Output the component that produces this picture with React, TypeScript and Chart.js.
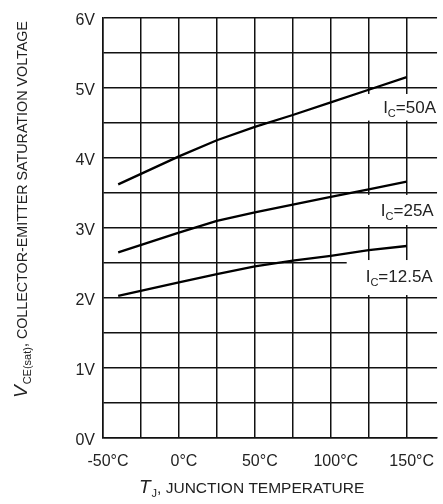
import React, { useEffect, useRef } from 'react';
import { Chart, registerables } from 'chart.js';

Chart.register(...registerables);

// Junction temperature (°C) sample points
const temperatures = [-40, 0, 25, 50, 75, 100, 125, 150];
// VCE(sat) in volts for each collector current
const vce50A = [3.62, 4.02, 4.25, 4.44, 4.61, 4.79, 4.97, 5.15];
const vce25A = [2.65, 2.93, 3.1, 3.22, 3.33, 3.44, 3.55, 3.66];
const vce12p5A = [2.03, 2.22, 2.34, 2.45, 2.53, 2.6, 2.68, 2.74];
const seriesLabels = ['=50A', '=25A', '=12.5A'];
const xTickValues = [-50, 0, 50, 100, 150];
const yTickValues = [0, 1, 2, 3, 4, 5, 6];

const FONT = '"Liberation Sans", Arial, Helvetica, sans-serif';
const TEXT = '#222';
const LINE = '#111';

type Run = { text: string; font: string; dy?: number; dx?: number };

function drawRuns(ctx: CanvasRenderingContext2D, runs: Run[], x: number, y: number) {
  let cx = x;
  for (const r of runs) {
    ctx.font = r.font;
    ctx.fillText(r.text, cx, y + (r.dy || 0));
    cx += ctx.measureText(r.text).width + (r.dx || 0);
  }
}

// annotation boxes in data units: [xStart, yTop, yBottom], label anchor [x, y]
const annotations = [
  { label: seriesLabels[0], box: [124.5, 4.91, 4.53], at: [134.5, 4.64] },
  { label: seriesLabels[1], box: [124.5, 3.47, 3.04], at: [133, 3.17] },
  { label: seriesLabels[2], box: [110.5, 2.54, 2.04], at: [123, 2.23] },
];

const overlayPlugin = {
  id: 'overlay',
  afterDraw(chart: any) {
    const ctx: CanvasRenderingContext2D = chart.ctx;
    const xs = chart.scales.x;
    const ys = chart.scales.y;
    ctx.save();
    ctx.textBaseline = 'alphabetic';
    ctx.textAlign = 'left';
    for (const a of annotations) {
      const x1 = xs.getPixelForValue(a.box[0]);
      const y1 = ys.getPixelForValue(a.box[1]);
      const y2 = ys.getPixelForValue(a.box[2]);
      ctx.fillStyle = '#fff';
      ctx.fillRect(x1, y1, chart.width - x1, y2 - y1);
      ctx.fillStyle = TEXT;
      drawRuns(
        ctx,
        [
          { text: 'I', font: `17px ${FONT}` },
          { text: 'C', font: `11px ${FONT}`, dy: 4 },
          { text: a.label, font: `17px ${FONT}` },
        ],
        xs.getPixelForValue(a.at[0]),
        ys.getPixelForValue(a.at[1])
      );
    }
    // x axis title
    ctx.fillStyle = TEXT;
    drawRuns(
      ctx,
      [
        { text: 'T', font: `italic 19px ${FONT}`, dx: 1 },
        { text: 'J', font: `11px ${FONT}`, dy: 4 },
        { text: ', JUNCTION TEMPERATURE', font: `15.5px ${FONT}` },
      ],
      139,
      493
    );
    // y axis title (rotated)
    ctx.translate(27, 398);
    ctx.rotate(-Math.PI / 2);
    drawRuns(
      ctx,
      [
        { text: 'V', font: `italic 19px ${FONT}`, dx: 1 },
        { text: 'CE(sat)', font: `11px ${FONT}`, dy: 4 },
        { text: ', COLLECTOR-EMITTER SATURATION VOLTAGE', font: `14.3px ${FONT}` },
      ],
      0,
      0
    );
    ctx.restore();
  },
};

export default function App() {
  const canvasRef = useRef<HTMLCanvasElement | null>(null);

  useEffect(() => {
    document.body.style.margin = '0';
    const canvas = canvasRef.current;
    if (!canvas) return;
    const mk = (vals: number[]) => temperatures.map((t, i) => ({ x: t, y: vals[i] }));
    const ds = (vals: number[]) => ({
      data: mk(vals),
      borderColor: '#000',
      borderWidth: 2.3,
      pointRadius: 0,
      tension: 0,
      fill: false,
    });
    const chart = new Chart(canvas, {
      type: 'line',
      data: { datasets: [ds(vce50A), ds(vce25A), ds(vce12p5A)] },
      options: {
        responsive: false,
        animation: false,
        devicePixelRatio: 1,
        layout: { padding: { top: 17, right: 0, bottom: 0, left: 0 } },
        plugins: { legend: { display: false }, tooltip: { enabled: false } },
        font: { family: FONT },
        scales: {
          x: {
            type: 'linear',
            min: -50,
            max: 170,
            afterFit: (s: any) => {
              s.height = 66;
            },
            grid: { color: LINE, lineWidth: 1.5, drawTicks: false },
            border: { color: LINE, width: 1.5 },
            ticks: {
              stepSize: 25,
              includeBounds: false,
              autoSkip: false,
              maxRotation: 0,
              padding: 14,
              labelOffset: 5,
              color: TEXT,
              font: { size: 16, family: FONT },
              callback: (v: any) => (xTickValues.includes(Number(v)) ? `${v}°C` : ''),
            },
          },
          y: {
            min: 0,
            max: 6,
            afterFit: (s: any) => {
              s.width = 103;
            },
            grid: { color: LINE, lineWidth: 1.5, drawTicks: false },
            border: { color: LINE, width: 1.5 },
            ticks: {
              stepSize: 0.5,
              autoSkip: false,
              padding: 8,
              labelOffset: 3,
              color: TEXT,
              font: { size: 16, family: FONT },
              callback: (v: any) => (yTickValues.includes(Number(v)) ? `${v}V` : ''),
            },
          },
        },
      } as any,
      plugins: [overlayPlugin],
    });
    return () => chart.destroy();
  }, []);

  return (
    <div style={{ position: 'absolute', left: 0, top: 0, width: 443, height: 504, background: '#fff' }}>
      <canvas ref={canvasRef} width={443} height={504} style={{ display: 'block' }} />
    </div>
  );
}
